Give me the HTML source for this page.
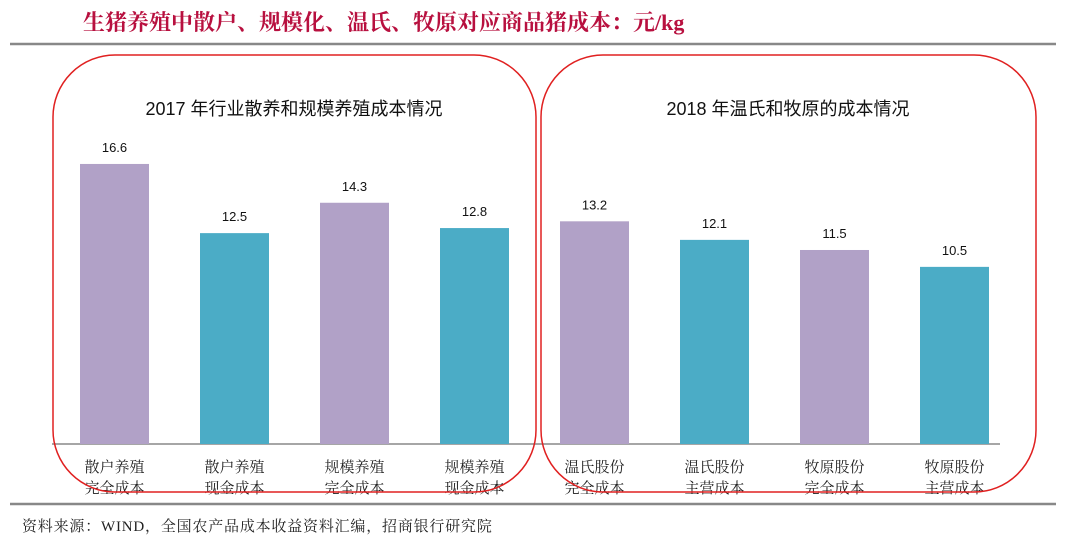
<!DOCTYPE html>
<html><head><meta charset="utf-8"><style>
body{margin:0;background:#fff;width:1068px;height:544px;overflow:hidden;font-family:"Liberation Serif","Noto Serif CJK SC",serif}
</style></head><body>
<svg width="1068" height="544" xmlns="http://www.w3.org/2000/svg">
<text x="83" y="30" font-size="22" font-weight="bold" fill="#b8103f" font-family="Liberation Serif,Noto Serif CJK SC,serif">生猪养殖中散户、规模化、温氏、牧原对应商品猪成本：元/kg</text>
<line x1="10" y1="44" x2="1056" y2="44" stroke="#888" stroke-width="2.5"/>
<line x1="10" y1="504" x2="1056" y2="504" stroke="#888" stroke-width="2.5"/>
<text x="22" y="531" font-size="15" letter-spacing="0.8" fill="#222" font-family="Liberation Serif,Noto Serif CJK SC,serif">资料来源：WIND，全国农产品成本收益资料汇编，招商银行研究院</text>
<line x1="52" y1="444" x2="1000" y2="444" stroke="#a6a6a6" stroke-width="2"/>
<g id="bars"></g>
<text x="294" y="115" font-size="18" text-anchor="middle" fill="#111" font-family="Liberation Sans,Noto Sans CJK SC,sans-serif">2017 年行业散养和规模养殖成本情况</text>
<text x="788" y="115" font-size="18" text-anchor="middle" fill="#111" font-family="Liberation Sans,Noto Sans CJK SC,sans-serif">2018 年温氏和牧原的成本情况</text>
<rect x="53" y="55" width="483" height="437" rx="62" ry="62" fill="none" stroke="#e02020" stroke-width="1.5"/>
<rect x="541" y="55" width="495" height="437" rx="62" ry="62" fill="none" stroke="#e02020" stroke-width="1.5"/>
</svg>
<script>
const categoriesLine1=["散户养殖","散户养殖","规模养殖","规模养殖","温氏股份","温氏股份","牧原股份","牧原股份"];
const categoriesLine2=["完全成本","现金成本","完全成本","现金成本","完全成本","主营成本","完全成本","主营成本"];
const values=[16.6,12.5,14.3,12.8,13.2,12.1,11.5,10.5];
const valueLabels=["16.6","12.5","14.3","12.8","13.2","12.1","11.5","10.5"];
const NS="http://www.w3.org/2000/svg";
const g=document.getElementById('bars');
const y=v=>444-v*16.87;
const x=i=>80+i*120;
values.forEach((v,i)=>{
 const r=document.createElementNS(NS,'rect');
 r.setAttribute('x',x(i));r.setAttribute('y',y(v));r.setAttribute('width',69);r.setAttribute('height',444-y(v));
 r.setAttribute('fill',i%2?'#4bacc6':'#b1a1c7');
 
 
 g.appendChild(r);
 const t=document.createElementNS(NS,'text');
 t.setAttribute('x',x(i)+34.5);t.setAttribute('y',y(v)-12);t.setAttribute('text-anchor','middle');
 t.setAttribute('font-size','13');t.setAttribute('font-family','Liberation Sans,sans-serif');t.setAttribute('fill','#111');
 t.textContent=valueLabels[i];
 
 
 g.appendChild(t);
 [categoriesLine1[i],categoriesLine2[i]].forEach((s,k)=>{
  const c=document.createElementNS(NS,'text');
  c.setAttribute('x',x(i)+34.5);c.setAttribute('y',472+k*21);c.setAttribute('text-anchor','middle');
  c.setAttribute('font-size','15');c.setAttribute('fill','#222');
  c.setAttribute('font-family','Liberation Serif,Noto Serif CJK SC,serif');
  c.textContent=s;
  
  
  g.appendChild(c);
 });
});
</script>
</body></html>
